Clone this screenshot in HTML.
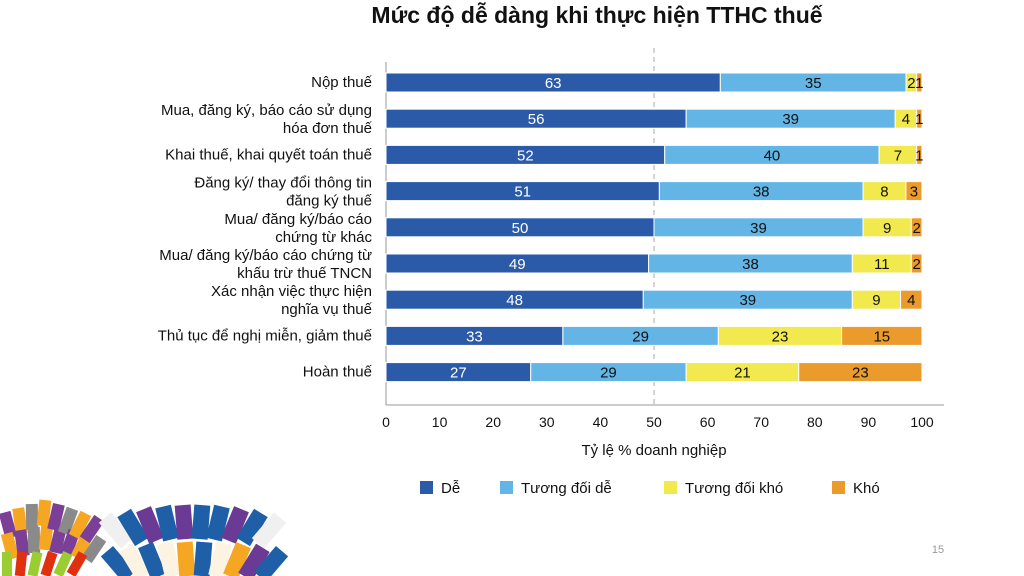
<!DOCTYPE html>
<html><head><meta charset="utf-8"><style>
html,body{margin:0;width:1024px;height:576px;background:#fff;overflow:hidden;font-family:"Liberation Sans",sans-serif}
svg{display:block;overflow:hidden}
</style></head><body>
<svg id="c" width="1024" height="576" xmlns="http://www.w3.org/2000/svg">
<text x="597" y="23" text-anchor="middle" font-size="23" font-weight="bold" fill="#111">Mức độ dễ dàng khi thực hiện TTHC thuế</text>
<g id="deco"></g>
<text x="938" y="553" font-size="11" fill="#999" text-anchor="middle">15</text>
</svg>
<script>
const categories=[["Nộp thuế"],["Mua, đăng ký, báo cáo sử dụng","hóa đơn thuế"],["Khai thuế, khai quyết toán thuế"],["Đăng ký/ thay đổi thông tin","đăng ký thuế"],["Mua/ đăng ký/báo cáo","chứng từ khác"],["Mua/ đăng ký/báo cáo chứng từ","khấu trừ thuế TNCN"],["Xác nhận việc thực hiện","nghĩa vụ thuế"],["Thủ tục để nghị miễn, giảm thuế"],["Hoàn thuế"]];
const seriesNames=["Dễ","Tương đối dễ","Tương đối khó","Khó"];
const de=[63,56,52,51,50,49,48,33,27];
const tdDe=[35,39,40,38,39,38,39,29,29];
const tdKho=[2,4,7,8,9,11,9,23,21];
const kho=[1,1,1,3,2,2,4,15,23];
const xTicks=[0,10,20,30,40,50,60,70,80,90,100];
const colors=["#2b5ba8","#62b5e5","#f2e94e","#eb9a2c"];
const svg=document.getElementById('c');const NS="http://www.w3.org/2000/svg";
function mk(t,a,p){const e=document.createElementNS(NS,t);for(const k in a)e.setAttribute(k,a[k]);(p||svg).appendChild(e);return e;}
const x=v=>386+v*5.36;const y=i=>82+i*36.2;
let ax=mk('line',{x1:386,y1:62,x2:386,y2:405,stroke:'#999'});
let bx=mk('line',{x1:386,y1:405,x2:944,y2:405,stroke:'#999'});
let dl=mk('line',{x1:x(50),y1:48,x2:x(50),y2:405,stroke:'#aaa','stroke-dasharray':'5,4'});
xTicks.forEach(t=>{const e=mk('text',{x:x(t),y:427,'text-anchor':'middle','font-size':14,fill:'#111'});e.textContent=t;});
let xt=mk('text',{x:654,y:455,'text-anchor':'middle','font-size':15,fill:'#111'});xt.textContent="Tỷ lệ % doanh nghiệp";
const series=[de,tdDe,tdKho,kho];
categories.forEach((c,i)=>{
  const cy=y(i);
  const l=mk('text',{x:372,'text-anchor':'end','font-size':15,fill:'#111'});
  
  c.forEach((s,j)=>{const ts=mk('tspan',{x:372,y:c.length==1?cy+5:cy-3+j*18},l);ts.textContent=s;});
  const tot=series.reduce((s,a)=>s+a[i],0);const sc=tot>100?100/tot:1;
  let acc=0;
  series.forEach((arr,k)=>{
    const v=arr[i]*sc;
    const r=mk('rect',{x:x(acc),y:cy-9,width:Math.max(0,x(acc+v)-x(acc)),height:19,fill:colors[k],stroke:'#fff','stroke-width':1});
    
    const t=mk('text',{x:(x(acc)+x(acc+v))/2,y:cy+6,'text-anchor':'middle','font-size':15,fill:k==0?'#fff':'#111'});
    t.textContent=arr[i];
    acc+=v;
  });
});
const lx=[420,500,664,832];
seriesNames.forEach((n,k)=>{
  const r=mk('rect',{x:lx[k],y:481,width:13,height:13,fill:colors[k]});
  const t=mk('text',{x:lx[k]+21,y:493,'font-size':15,fill:'#111'});t.textContent=n;
});
const deco=document.getElementById('deco');
function blk(px,py,w,h,c,a){const r=mk('rect',{x:px,y:py,width:w,height:h,fill:c,transform:'rotate('+a+' '+(px+w/2)+' '+(py+h/2)+')'},deco);}
const dc=["#7b3f98","#f5a623","#8a8a8a","#f5a623","#7b3f98","#8a8a8a","#f5a623","#7b3f98"];
for(let i=0;i<8;i++){blk(2+i*12,500+Math.abs(i-3)*4,12,26,dc[i],i*7-15);blk(4+i*12,524+Math.abs(i-3)*3,12,26,dc[(i+3)%8],i*7-15);}
for(let i=0;i<6;i++){blk(2+i*14,552,10,24,i%2?"#e03010":"#9acd32",i*6);}
const d2c=["#f0f0f0","#1f5fa8","#6a3a95","#1f5fa8","#6a3a95","#1f5fa8","#1f5fa8","#6a3a95","#1f5fa8","#f0f0f0"];
const d3c=["#1f5fa8","#fdf3e3","#1f5fa8","#fdf3e3","#f5a623","#1f5fa8","#fdf3e3","#f5a623","#6a3a95","#1f5fa8"];
for(let i=0;i<10;i++){const a=(i-4.5)*9;blk(108+i*17,515-Math.sin((i+0.5)/10*Math.PI)*10,16,34,d2c[i],a);blk(110+i*17,548-Math.sin((i+0.5)/10*Math.PI)*6,16,34,d3c[i],a);}
</script>
</body></html>
